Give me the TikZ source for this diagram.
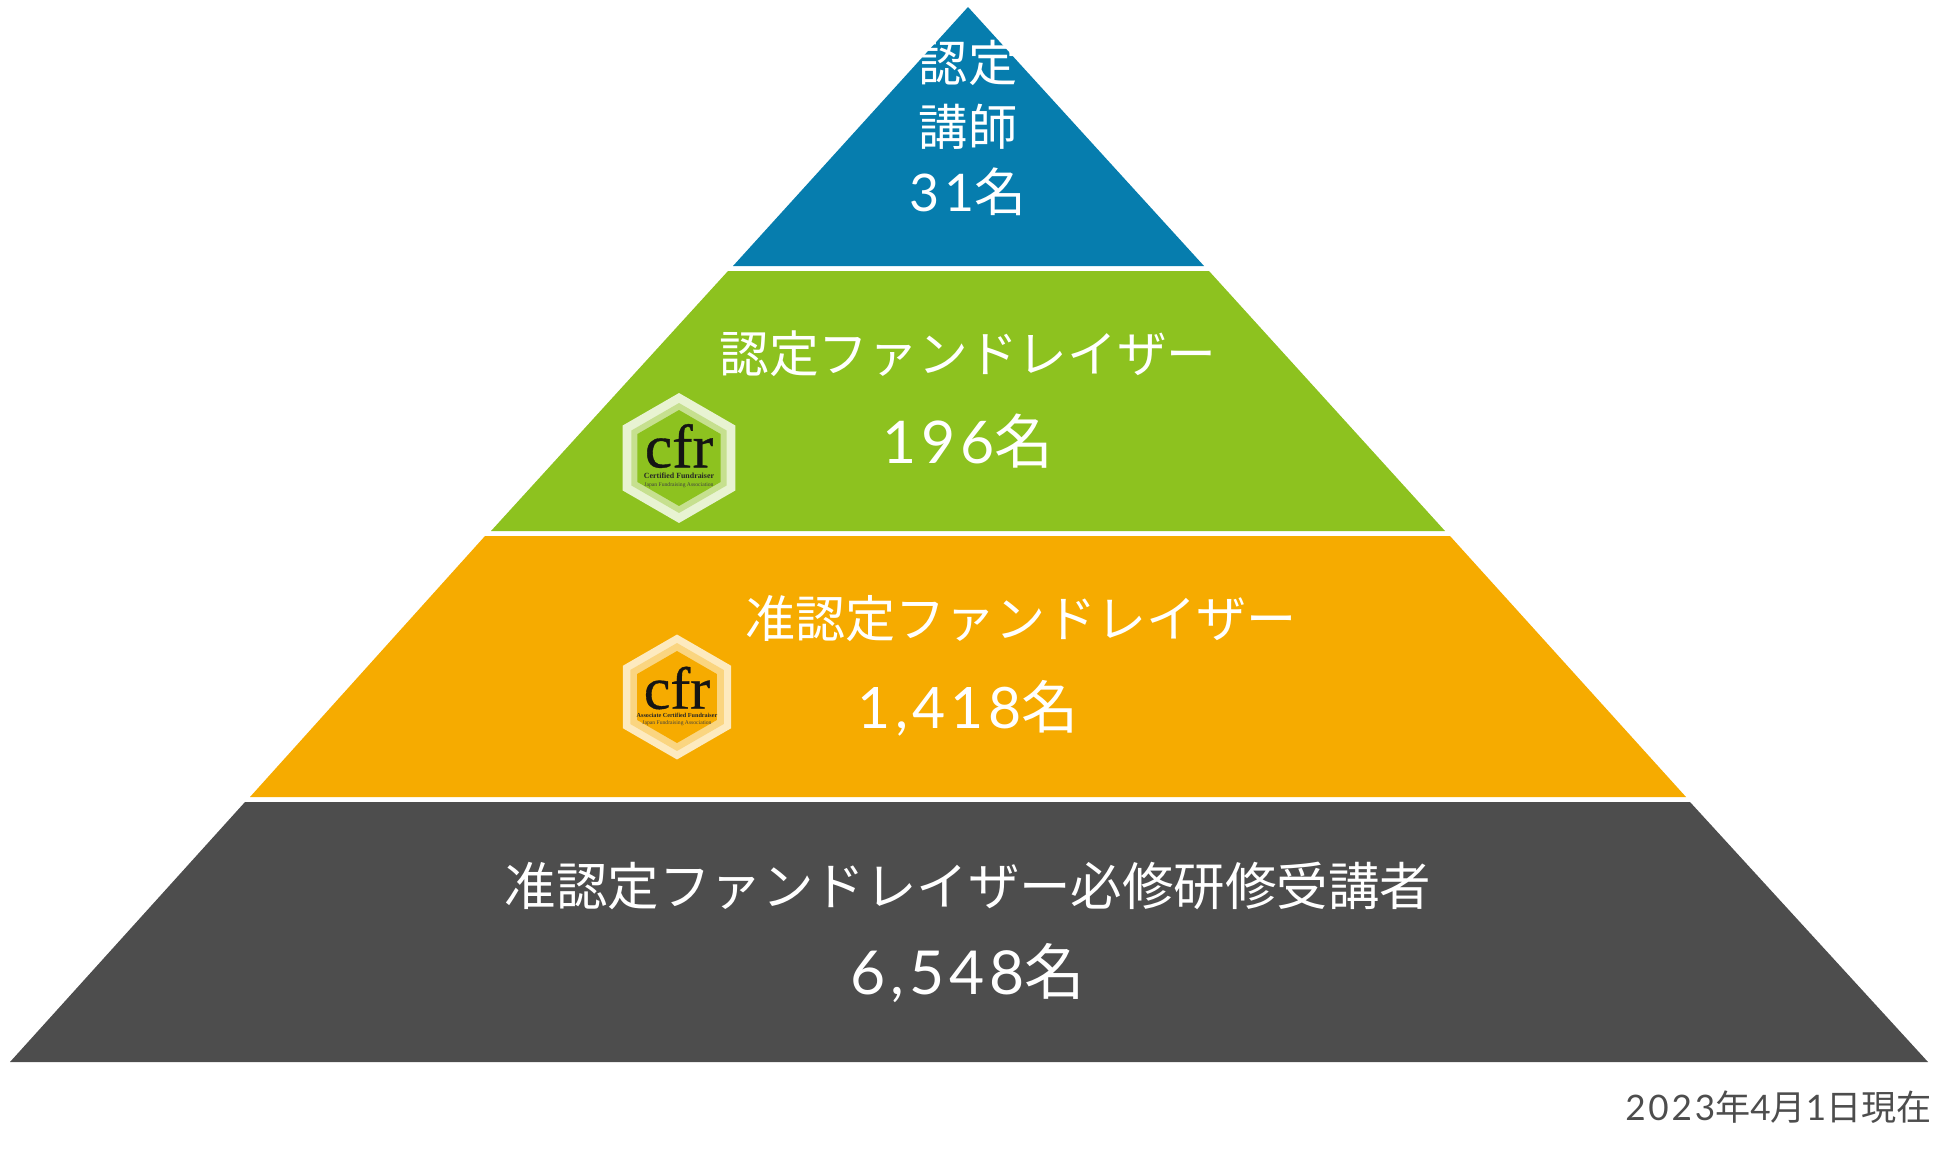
\documentclass[tikz,border=0pt]{standalone}
\usepackage{fontspec}
\setmainfont{Noto Sans CJK JP}
\newfontfamily\numfont[LetterSpace=8]{Lato}
\newfontfamily\badgefont[FakeBold=0.6]{Liberation Serif}
\newfontfamily\badgesmall{Liberation Serif}
\usetikzlibrary{shapes.geometric}
\definecolor{teacher}{HTML}{067DAE}
\definecolor{certified}{HTML}{8DC21F}
\definecolor{associate}{HTML}{F6AB00}
\definecolor{trainee}{HTML}{4D4D4D}
\begin{document}
\begin{tikzpicture}[
        x=0.02cm, y=-0.02cm,
        label/.style={text=white, inner sep=0pt, font=\fontsize{28}{34}\selectfont},
        count/.style={text=white, inner sep=0pt, font=\fontsize{#1}{40}\selectfont},
        hexa/.style={regular polygon, regular polygon sides=6, shape border rotate=30, inner sep=0pt, outer sep=0pt},
        cfrtext/.style={inner sep=0pt, text=black!92, font=\badgefont\fontsize{#1}{36}\selectfont},
        cfrname/.style={inner sep=0pt, text=black!85, font=\badgesmall\bfseries\fontsize{#1}{6}\selectfont},
        cfrorg/.style={inner sep=0pt, text=black!75, font=\badgesmall\fontsize{3.2}{5}\selectfont}
    ]
        \useasboundingbox (0,0) rectangle (1950,1169);

        % Les quatre niveaux de la pyramide
        \fill[teacher] (968,7) -- (1204,266) -- (733,266) -- cycle;
        \fill[certified] (728,271) -- (1209,271) -- (1445,531) -- (491,531) -- cycle;
        \fill[associate] (485,536) -- (1450,536) -- (1686,797) -- (250,797) -- cycle;
        \fill[trainee] (245,802) -- (1690,802) -- (1928,1062) -- (10,1062) -- cycle;

        % Niveau 1
        \node[label] (T1) at (968,63) {認定};
        \node[label] (T2) at (968,127) {講師};
        \node[count=29.5] (T3) at (968,192) {\numfont 31\normalfont 名};

        % Niveau 2
        \node[label, font=\fontsize{28.3}{34}\selectfont] (C1) at (968,354) {認定ファンドレイザー};
        \node[count=33.5] (C2) at (968,441) {\numfont 196\normalfont 名};

        % Niveau 3
        \node[label, font=\fontsize{28.5}{34}\selectfont] (A1) at (1021,619) {准認定ファンドレイザー};
        \node[count=32.5] (A2) at (968,708) {\numfont 1,418\normalfont 名};

        % Niveau 4
        \node[label, font=\fontsize{29.3}{34}\selectfont] (R1) at (968,886) {准認定ファンドレイザー必修研修受講者};
        \node[count=34.5] (R2) at (968,973) {\numfont 6,548\normalfont 名};

        % Date
        \node[inner sep=0pt, anchor=east, text=trainee, font=\fontsize{20}{24}\selectfont] (D1) at (1932,1107) {\numfont 2023\normalfont 年\numfont 4\normalfont 月\numfont 1\normalfont 日現在};

        % Badge du niveau 2
        \node[hexa, fill=certified!20!white, minimum size=2.6cm] (H1) at (679,458) {};
        \node[hexa, fill=certified!50!white, minimum size=2.2cm] (H2) at (679,458) {};
        \node[hexa, fill=certified, minimum size=1.92cm] (H3) at (679,458) {};
        \node[cfrtext=35] (H4) at (679,446) {cfr};
        \node[cfrname=4.5] (H5) at (679,476) {Certified Fundraiser};
        \node[cfrorg] (H6) at (679,485) {Japan Fundraising Association};

        % Badge du niveau 3
        \node[hexa, fill=associate!25!white, minimum size=2.5cm] (H7) at (677,697) {};
        \node[hexa, fill=associate!50!white, minimum size=2.16cm] (H8) at (677,697) {};
        \node[hexa, fill=associate, minimum size=1.84cm] (H9) at (677,697) {};
        \node[cfrtext=34] (H10) at (677,688) {cfr};
        \node[cfrname=3.5] (H11) at (677,715) {Associate Certified Fundraiser};
        \node[cfrorg] (H12) at (677,723) {Japan Fundraising Association};
    \end{tikzpicture}
\end{document}
